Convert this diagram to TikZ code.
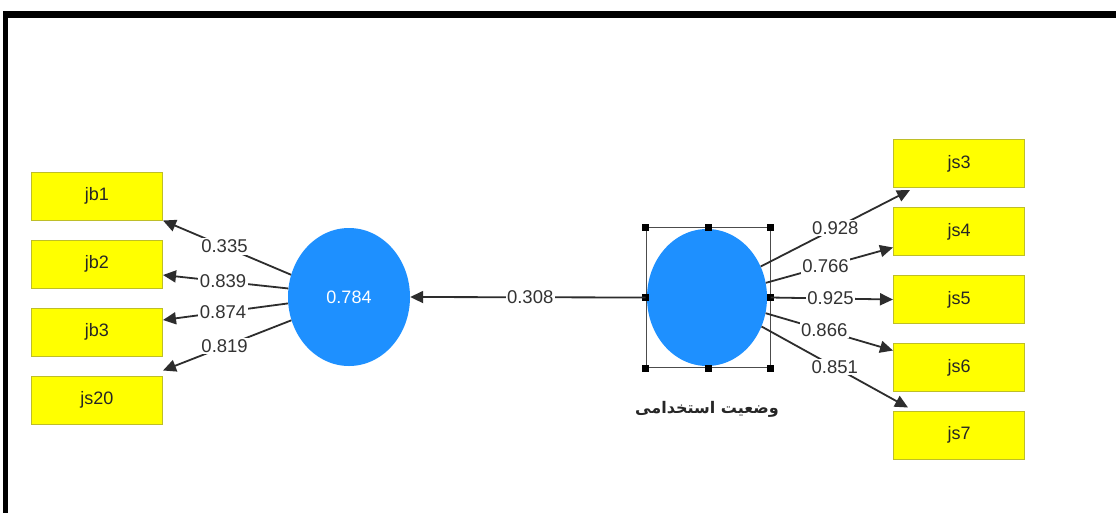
\documentclass[tikz,border=0pt]{standalone}
\usepackage{fontspec}
\setmainfont{Liberation Sans}
\newfontfamily\arabicfont[Script=Arabic]{DejaVu Sans}
\TeXXeTstate=1
\usetikzlibrary{shapes.geometric,arrows.meta,calc}
\definecolor{boxyellow}{RGB}{255,255,0}
\definecolor{boxedge}{RGB}{190,190,40}
\definecolor{latblue}{RGB}{30,144,255}
\definecolor{linegrey}{RGB}{45,45,45}
\tikzset{
  ind/.style={draw=boxedge, line width=1pt, fill=boxyellow, minimum width=131pt, minimum height=48pt, inner sep=0pt, font=\fontsize{18}{18}\selectfont, text=black!85},
  lat/.style={ellipse, fill=latblue, draw=none, inner sep=0pt},
  conn/.style={draw=linegrey, line width=1.8pt, -{Triangle[length=13pt,width=12pt]}},
  lab/.style={fill=white, inner sep=1.5pt, font=\fontsize{18.5}{18.5}\selectfont, text=black!80},
  handle/.style={fill=black, minimum size=7pt, inner sep=0pt}
}
\begin{document}
\begin{tikzpicture}[x=1pt,y=-1pt]
\useasboundingbox (0,0) rectangle (1116,512);
\fill[white] (0,0) rectangle (1116,512);
% frame
\draw[line width=7pt] (3,14.5) -- (1120,14.5);
\draw[line width=4.5pt] (5.5,11) -- (5.5,520);
% left indicators
\node[ind] (jb1) at (97,196) {jb1};
\node[ind] (jb2) at (97,264) {jb2};
\node[ind] (jb3) at (97,332) {jb3};
\node[ind] (js20) at (97,400) {js20};
% right indicators
\node[ind] (js3) at (959,163.5) {js3};
\node[ind] (js4) at (959,231.5) {js4};
\node[ind] (js5) at (959,299.5) {js5};
\node[ind] (js6) at (959,367.5) {js6};
\node[ind] (js7) at (959,435) {js7};
% latent variables
\node[lat, minimum width=122pt, minimum height=138pt, text=white, font=\fontsize{18}{18}\selectfont] (L) at (349,297) {0.784};
\node[lat, minimum width=120pt, minimum height=137pt] (R) at (707,297.5) {};
% selection box
\node[draw=black!70, line width=1pt, minimum width=124pt, minimum height=140pt, inner sep=0pt] (sel) at (708,297.5) {};
\foreach \a in {north west,north,north east,east,south east,south,south west,west}{
  \node[handle] at (sel.\a) {};
}
\node[font=\arabicfont\bfseries\fontsize{16}{16}\selectfont, text=black!85] (Rlab) at (707,409) {\beginR وضعیت استخدامی\endR};
% left connectors
\draw[conn] (L.159) -- node[lab,pos=0.52] {0.335} (jb1.south east);
\draw[conn] (L.172) -- node[lab,pos=0.52] {0.839} ($(jb2.east)+(0,11)$);
\draw[conn] (L.186) -- node[lab,pos=0.52] {0.874} ($(jb3.east)+(0,-12)$);
\draw[conn] (L.202) -- node[lab,pos=0.52] {0.819} ($(js20.north east)+(0,-5)$);
% structural path
\draw[conn] (sel.west) -- node[lab,pos=0.49] {0.308} (L.east);
% right connectors
\draw[conn] (R.30) -- node[lab,pos=0.5] {0.928} ($(js3.south west)+(17,2)$);
\draw[conn] (R.14) -- node[lab,pos=0.47] {0.766} ($(js4.west)+(0,16)$);
\draw[conn] (sel.east) -- node[lab,pos=0.49] {0.925} (js5.west);
\draw[conn] (R.-15) -- node[lab,pos=0.46] {0.866} ($(js6.west)+(0,-17)$);
\draw[conn] (R.-28) -- node[lab,pos=0.5] {0.851} ($(js7.north west)+(15,-3)$);
\end{tikzpicture}
\end{document}
